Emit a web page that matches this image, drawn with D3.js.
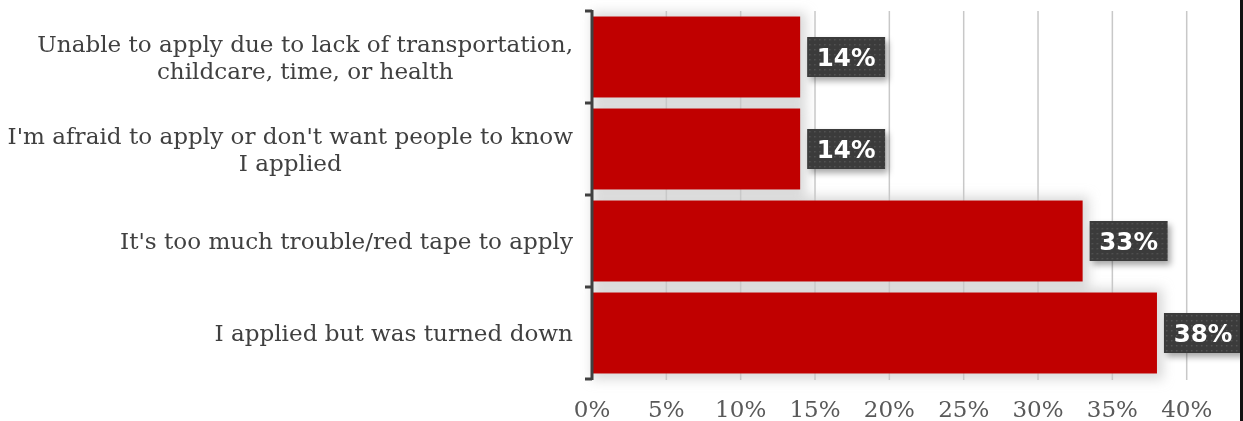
<!DOCTYPE html>
<html>
<head>
<meta charset="utf-8">
<script src="https://cdn.jsdelivr.net/npm/d3@7"></script>
<style>
  html, body { margin: 0; padding: 0; background: #ffffff; }
  svg { display: block; }
</style>
</head>
<body>
<svg id="chart" width="1243" height="421"></svg>
<script>
// Reasons for not receiving assistance (share of respondents, %)
const categories = [
  "Unable to apply due to lack of transportation,|childcare, time, or health",
  "I'm afraid to apply or don't want people to know|I applied",
  "It's too much trouble/red tape to apply",
  "I applied but was turned down"
];
const values = [14, 14, 33, 38];
const tickValues = [0, 5, 10, 15, 20, 25, 30, 35, 40];

(function draw() {
  const svg = d3.select("#chart");
  const W = 1243, H = 421;
  const plotLeft = 592, plotRight = 1186.7, plotTop = 11, plotBottom = 379;

  const x = d3.scaleLinear().domain([0, 40]).range([plotLeft, plotRight]);
  const y = d3.scaleBand().domain(categories).range([plotTop, plotBottom])
    .paddingInner(0.12).paddingOuter(0.06);

  const defs = svg.append("defs");
  const blur = defs.append("filter").attr("id", "soft")
    .attr("x", "-20%").attr("y", "-40%").attr("width", "140%").attr("height", "180%");
  blur.append("feGaussianBlur").attr("stdDeviation", 6);

  const boxShadow = defs.append("filter").attr("id", "boxShadow")
    .attr("x", "-30%").attr("y", "-30%").attr("width", "160%").attr("height", "170%");
  boxShadow.append("feDropShadow").attr("dx", 3).attr("dy", 4)
    .attr("stdDeviation", 3).attr("flood-color", "#000").attr("flood-opacity", 0.35);

  const dots = defs.append("pattern").attr("id", "dots")
    .attr("width", 5).attr("height", 5).attr("patternUnits", "userSpaceOnUse");
  dots.append("rect").attr("width", 5).attr("height", 5).attr("fill", "#3b3b3b");
  dots.append("rect").attr("x", 2).attr("y", 2).attr("width", 1.4).attr("height", 1.4).attr("fill", "#555555");

  // soft shadows behind bars
  svg.append("g").attr("filter", "url(#soft)")
    .selectAll("rect").data(categories).join("rect")
    .attr("x", plotLeft)
    .attr("y", d => y(d) - 4)
    .attr("width", (d, i) => x(values[i]) - plotLeft + 6)
    .attr("height", y.bandwidth() + 10)
    .attr("fill", "#c4c4c4")
    .attr("opacity", 0.65);

  // vertical gridlines
  svg.append("g").selectAll("line").data(tickValues.slice(1)).join("line")
    .attr("x1", d => x(d)).attr("x2", d => x(d))
    .attr("y1", plotTop).attr("y2", plotBottom + 1)
    .attr("stroke", "#c8c8c8").attr("stroke-width", 1.5);

  // bars
  svg.append("g").selectAll("rect").data(categories).join("rect")
    .attr("x", plotLeft)
    .attr("y", d => y(d))
    .attr("width", (d, i) => x(values[i]) - plotLeft)
    .attr("height", y.bandwidth())
    .attr("fill", "#c00000");

  // category axis with ticks at band boundaries
  const step = y.step();
  const bounds = d3.range(categories.length + 1).map(i => plotTop + i * step);
  const axisG = svg.append("g");
  axisG.append("line")
    .attr("x1", plotLeft).attr("x2", plotLeft)
    .attr("y1", plotTop - 1).attr("y2", plotBottom + 1)
    .attr("stroke", "#404040").attr("stroke-width", 3);
  axisG.selectAll("line.tick").data(bounds).join("line").attr("class", "tick")
    .attr("x1", plotLeft - 7).attr("x2", plotLeft)
    .attr("y1", d => d).attr("y2", d => d)
    .attr("stroke", "#404040").attr("stroke-width", 3);

  // category labels (multi-line, centred block aligned to the right)
  const labelRight = 573;
  const labelG = svg.append("g")
    .attr("font-family", "'DejaVu Serif', serif")
    .attr("font-size", 23.1)
    .attr("fill", "#404040");
  categories.forEach(c => {
    const lines = c.split("|");
    const cy = y(c) + y.bandwidth() / 2;
    const lh = 27;
    const t = labelG.append("text").attr("text-anchor", "middle");
    const spans = lines.map((ln, i) => t.append("tspan")
      .attr("y", cy + (i - (lines.length - 1) / 2) * lh)
      .attr("dy", "0.35em")
      .text(ln));
    const maxW = d3.max(spans, s => s.node().getComputedTextLength());
    spans.forEach(s => s.attr("x", labelRight - maxW / 2));
  });

  // value axis labels
  svg.append("g")
    .attr("font-family", "'DejaVu Serif', serif")
    .attr("font-size", 23)
    .attr("fill", "#595959")
    .selectAll("text").data(tickValues).join("text")
    .attr("x", d => x(d)).attr("y", 409).attr("dy", "0.35em")
    .attr("text-anchor", "middle")
    .text(d => d + "%");

  // data labels in dark boxes
  const lab = svg.append("g").selectAll("g").data(categories).join("g")
    .attr("transform", (d, i) => `translate(${x(values[i]) + 7},${y(d) + y.bandwidth() / 2})`);
  lab.append("rect")
    .attr("x", 0).attr("y", -20).attr("width", 78).attr("height", 40)
    .attr("fill", "url(#dots)").attr("filter", "url(#boxShadow)");
  lab.append("text")
    .attr("x", 39).attr("dy", "0.36em")
    .attr("text-anchor", "middle")
    .attr("font-family", "'DejaVu Sans', Verdana, sans-serif")
    .attr("font-weight", "bold")
    .attr("font-size", 24.5)
    .attr("fill", "#ffffff")
    .text((d, i) => values[i] + "%");

  // right frame edge
  svg.append("rect").attr("x", 1240).attr("y", 0).attr("width", 3).attr("height", H)
    .attr("fill", "#111111");
})();
</script>
</body>
</html>
